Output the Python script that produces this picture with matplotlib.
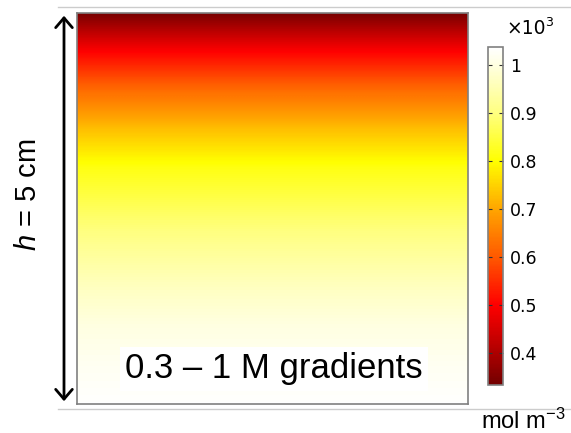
import numpy as np
import matplotlib
matplotlib.use("Agg")
import matplotlib.pyplot as plt
from matplotlib.colors import LinearSegmentedColormap, Normalize
from matplotlib.lines import Line2D
from matplotlib.ticker import FuncFormatter

plt.rcParams['mathtext.fontset'] = 'custom'
plt.rcParams['mathtext.rm'] = 'Liberation Sans'
plt.rcParams['mathtext.it'] = 'Liberation Sans:italic'

# concentration profile (height in cm, c in mol/m3)
heights = [0, 0.5, 1, 1.5, 2, 2.5, 3, 3.5, 4, 4.5, 5]
conc = [1035, 1020, 1000, 965, 920, 870, 815, 730, 625, 500, 335]

cbar_ticks = [400, 500, 600, 700, 800, 900, 1000]
c_min, c_max = 333, 1037

# colour map stops (value, colour)
cmap_vals = [333, 420, 500, 600, 700, 800, 900, 1000, 1037]
cmap_cols = [(0.45, 0, 0), (0.75, 0, 0), (1, 0, 0), (1, 0.35, 0),
             (1, 0.65, 0), (1, 1, 0), (1, 1, 0.5), (1, 1, 0.88), (1, 1, 1)]

W, H = 571, 433
cmap = LinearSegmentedColormap.from_list(
    "heat", [((v - c_min) / (c_max - c_min), c) for v, c in zip(cmap_vals, cmap_cols)])
norm = Normalize(c_min, c_max)

fig = plt.figure(figsize=(W / 100, H / 100), dpi=100)
ax = fig.add_axes([77 / W, (H - 404) / H, 391 / W, 391 / H])

field = np.array(conc)[:, None] * np.ones((1, 2))
ax.imshow(field, cmap=cmap, norm=norm, origin='lower', aspect='auto',
          interpolation='bilinear', extent=[0, 1, heights[0] - 0.25, heights[-1] + 0.25])
ax.set_xlim(0, 1)
ax.set_ylim(heights[0], heights[-1])
ax.set_xticks([])
ax.set_yticks([])
for s in ax.spines.values():
    s.set_color('#808080')
    s.set_linewidth(1.2)

ax.text(0.504, 0.09, "0.3 \u2013 1 M gradients", transform=ax.transAxes,
        ha='center', va='center', fontsize=25, family='Liberation Sans',
        bbox=dict(boxstyle='square,pad=0.15', fc='white', ec='none'))

# colour bar
cax = fig.add_axes([488 / W, (H - 385) / H, 15 / W, 338 / H])
cb = fig.colorbar(plt.cm.ScalarMappable(norm=norm, cmap=cmap), cax=cax, ticks=cbar_ticks)
cb.outline.set_edgecolor('#808080')
cb.outline.set_linewidth(1.2)
cax.yaxis.set_major_formatter(FuncFormatter(lambda v, p: f"{v / 1000:g}"))
cax.tick_params(axis='y', direction='in', left=True, right=True, length=3,
                width=0.8, color='#333333', labelsize=12.5, pad=5)

fig.text(526 / W, (H - 28) / H, "\u00d710", ha='center', va='center',
         fontsize=13.5, family='DejaVu Sans')
fig.text(545 / W, (H - 22) / H, "3", ha='left', va='center',
         fontsize=9, family='DejaVu Sans')
fig.text(523 / W, (H - 421) / H, r"mol m$^{-3}$", ha='center', va='center',
         fontsize=17, family='Liberation Sans')

# height arrow and label
fig.add_artist(matplotlib.patches.FancyArrowPatch(
    (64 / W, (H - 404) / H), (64 / W, (H - 13) / H), transform=fig.transFigure,
    arrowstyle='<->,head_length=0.7,head_width=0.6', mutation_scale=10,
    lw=2, color='black'))
fig.text(28 / W, (H - 195) / H, r"$h$ = 5 cm", rotation=90, ha='center', va='center',
         fontsize=21, family='Liberation Sans')

for yy in (7, 409):
    fig.add_artist(Line2D([58 / W, 1], [(H - yy) / H] * 2, transform=fig.transFigure,
                          color='#cccccc', lw=1))

fig.savefig("out.png", dpi=100)
